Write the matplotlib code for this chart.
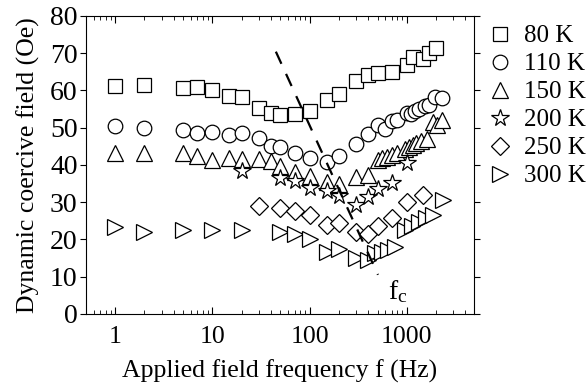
import matplotlib.pyplot as plt

plt.rcParams["font.family"] = ["Liberation Serif", "DejaVu Serif"]
plt.rcParams["mathtext.fontset"] = "stix"

# Dynamic coercive field (Oe) vs applied field frequency (Hz)
F_80K = [1, 2, 5, 7, 10, 15, 20, 30, 40, 50, 70, 100, 150, 200, 300, 400, 500,
         700, 1000, 1160, 1470, 1700, 2000]
H_80K = [61.2, 61.5, 60.7, 61.0, 60.0, 58.6, 58.3, 55.2, 54.0, 53.4, 53.7, 54.5,
         57.4, 59.1, 62.6, 64.2, 64.6, 65.0, 66.7, 68.9, 68.5, 70.1, 71.3]

F_110K = [1, 2, 5, 7, 10, 15, 20, 30, 40, 50, 70, 100, 150, 200, 300, 400, 500,
          600, 700, 800, 1000, 1100, 1200, 1350, 1550, 1700, 1950, 2300]
H_110K = [50.5, 49.8, 49.3, 48.5, 48.8, 48.1, 48.6, 47.1, 45.2, 44.9, 43.2, 41.8,
          40.9, 42.4, 45.6, 48.3, 50.8, 49.6, 51.9, 52.0, 54.0, 53.6, 54.4, 55.1,
          55.7, 56.2, 58.1, 57.9]

F_150K = [1, 2, 5, 7, 10, 15, 20, 30, 40, 50, 70, 100, 150, 200, 300, 400, 500,
          550, 620, 700, 800, 950, 1050, 1150, 1250, 1400, 1600, 1850, 2050, 2300]
H_150K = [43.1, 43.2, 43.1, 42.5, 41.4, 41.9, 41.5, 41.5, 41.1, 39.8, 38.0, 37.0,
          35.5, 35.0, 36.7, 37.3, 41.3, 41.8, 42.2, 42.7, 43.1, 44.3, 44.9, 45.3,
          45.8, 46.3, 47.0, 51.4, 50.6, 52.0]

F_200K = [20, 50, 70, 100, 150, 200, 300, 400, 500, 700, 1000]
H_200K = [38.4, 36.6, 35.6, 33.9, 33.0, 31.6, 29.3, 31.4, 33.4, 35.1, 40.6]

F_250K = [30, 50, 70, 100, 150, 200, 300, 400, 500, 700, 1000, 1450]
H_250K = [29.0, 28.4, 27.5, 26.6, 23.9, 24.5, 22.1, 21.5, 23.6, 25.7, 30.1, 31.9]

F_300K = [1, 2, 5, 10, 20, 50, 70, 100, 150, 200, 300, 400, 470, 550, 640, 750,
          960, 1130, 1350, 1580, 1850, 2360]
H_300K = [23.3, 22.1, 22.5, 22.5, 22.5, 22.1, 21.4, 20.1, 16.7, 17.4, 15.0, 14.5,
          16.3, 16.6, 17.2, 17.9, 22.5, 23.6, 24.8, 25.7, 26.6, 30.6]

# critical frequency guide line (end points)
FC_F = [45, 505]
FC_H = [70.4, 10.5]

series = [
    (F_80K, H_80K, "s", 10, "80 K"),
    (F_110K, H_110K, "o", 10.5, "110 K"),
    (F_150K, H_150K, "^", 12, "150 K"),
    (F_200K, H_200K, "*", 13, "200 K"),
    (F_250K, H_250K, "D", 9, "250 K"),
    (F_300K, H_300K, ">", 12, "300 K"),
]

fig = plt.figure(figsize=(5.88, 3.88), dpi=100)
ax = fig.add_axes([0.146, 0.191, 0.66, 0.768])

for f, h, m, ms, lab in series:
    ax.plot(f, h, linestyle="none", marker=m, markersize=ms, markerfacecolor="white",
            markeredgecolor="black", markeredgewidth=0.9, label=lab)

ax.plot(FC_F, FC_H, color="black", linestyle=(0, (6, 5)), linewidth=1.6)
ax.text(805, 5.8, r"f$_\mathregular{c}$", fontsize=20, ha="center", va="center")

ax.set_xscale("log")
ax.set_xlim(0.5, 4900)
ax.set_ylim(0, 80)
ax.set_yticks(range(0, 81, 10))
ax.set_xticks([1, 10, 100, 1000])
ax.set_xticklabels(["1", "10", "100", "1000"])

ax.tick_params(axis="x", which="both", direction="in", top=True, labelsize=18.5, pad=9)
ax.tick_params(axis="x", which="major", length=5)
ax.tick_params(axis="x", which="minor", length=3)
ax.tick_params(axis="y", direction="out", right=True, length=4, labelsize=20, pad=2)

ax.set_xlabel("Applied field frequency f (Hz)", fontsize=18.5, labelpad=8)
ax.set_ylabel("Dynamic coercive field (Oe)", fontsize=18.5, labelpad=7)

ax.legend(loc="upper left", bbox_to_anchor=(1.0, 1.02), frameon=False, fontsize=18,
          handlelength=0.9, handletextpad=0.5, labelspacing=0.22, borderaxespad=0.2,
          borderpad=0.4)

fig.savefig("out.png", dpi=100)
